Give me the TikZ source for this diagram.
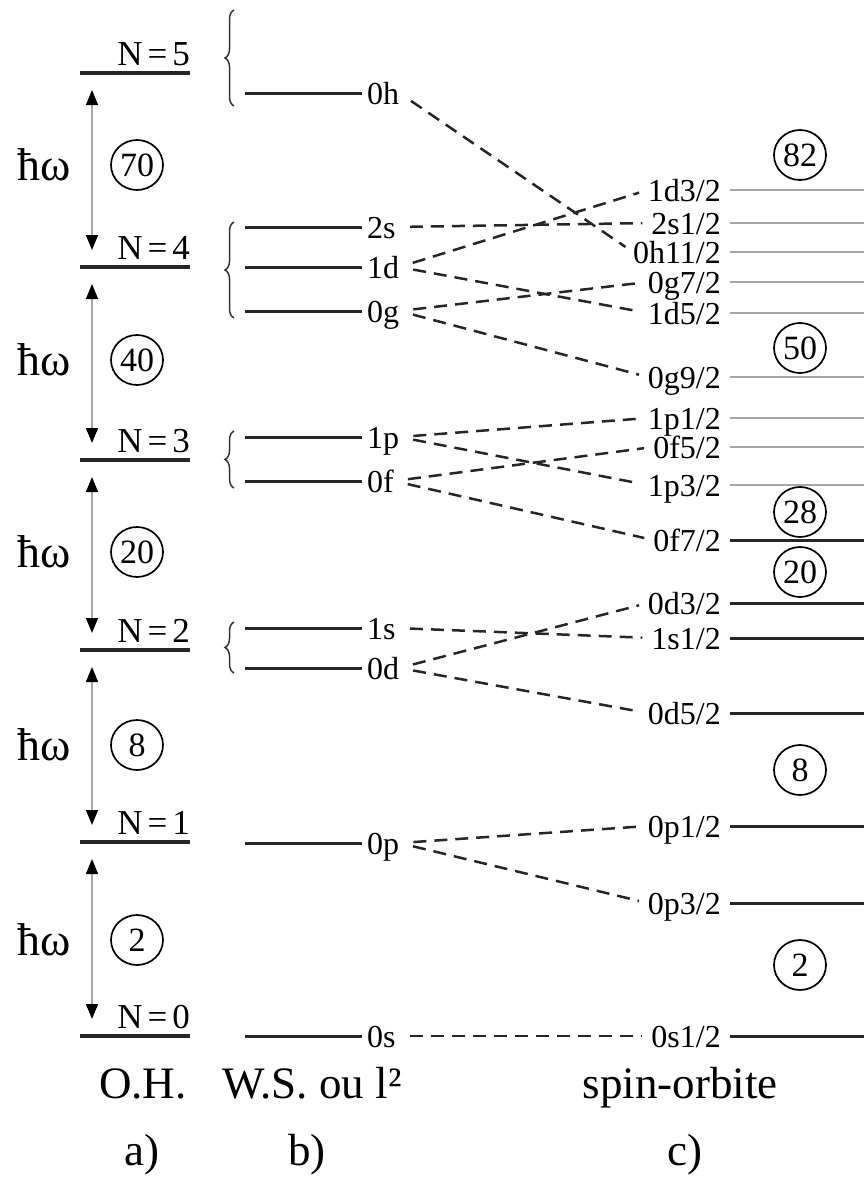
\documentclass[tikz,border=0pt]{standalone}
\usepackage{fontspec}
\setmainfont{Liberation Serif}
\usetikzlibrary{arrows.meta,shapes.geometric,decorations.pathreplacing}
\tikzset{
  lab/.style={font=\fontsize{32}{34}\selectfont, inner sep=0pt, text height=22pt, text depth=0pt},
  nlab/.style={font=\fontsize{35}{37}\selectfont, inner sep=0pt, anchor=base east},
  circ/.style={ellipse, draw, line width=1.7pt, minimum width=52pt, minimum height=50pt, inner sep=0pt, font=\fontsize{34}{36}\selectfont},
  hw/.style={font=\fontsize{46}{48}\selectfont, inner sep=0pt},
  captxt/.style={font=\fontsize{45}{47}\selectfont, inner sep=0pt, anchor=base},
  nline/.style={line width=3.2pt, black!85},
  lvl/.style={line width=3pt, black!85},
  glvl/.style={line width=1.6pt, black!35},
  dsh/.style={line width=2.5pt, dash pattern=on 13pt off 8pt, black!85, shorten <=14pt, shorten >=9pt},
  harr/.style={line width=1.5pt, black!35, {Triangle[color=black,length=15pt,width=12pt]}-{Triangle[color=black,length=15pt,width=12pt]}},
  brc/.style={decorate, decoration={brace, amplitude=9pt}, line width=1.5pt, black!80}
}
\newcommand\blev[3]{%
  \coordinate (bL#1) at (245,#3);
  \node[lab, anchor=west] (b#1) at (367,#3) {#2};
  \draw[lvl] (bL#1) -- ([xshift=-5pt]b#1.west);}
\newcommand\clev[4]{%
  \node[lab, anchor=east] (c#1) at (721,#3) {#2};
  \coordinate (cR#1) at (864,#3);
  \coordinate (cS#1) at (730,#3);
  \draw[#4] (cS#1) -- (cR#1);}
\begin{document}
\begin{tikzpicture}[x=1pt,y=-1pt]
\useasboundingbox (0,0) rectangle (864,1181);
% a) harmonic oscillator
\foreach \k/\y in {5/73,4/267,3/460,2/650,1/842,0/1036}{
  \coordinate (aL\k) at (80,\y);
  \coordinate (aR\k) at (190,\y);
  \draw[nline] (aL\k) -- (aR\k);
  \node[nlab] (aN\k) at (190,\y-8) {N{\kern5pt}={\kern5pt}\k};
}
\foreach \k/\ya/\yb/\ym/\m in {5/73/267/165/70, 4/267/460/360/40, 3/460/650/552/20, 2/650/842/745/8, 1/842/1036/940/2}{
  \coordinate (arT\k) at (92,\ya+17);
  \coordinate (arB\k) at (92,\yb-17);
  \draw[harr] (arT\k) -- (arB\k);
  \node[hw] (hw\k) at (44,\ym) {ħω};
  \node[circ] (ca\k) at (137,\ym) {\m};
}
% b) levels
\blev{0h}{0h}{93}
\blev{2s}{2s}{227}
\blev{1d}{1d}{267}
\blev{0g}{0g}{311}
\blev{1p}{1p}{437}
\blev{0f}{0f}{481}
\blev{1s}{1s}{628}
\blev{0d}{0d}{668}
\blev{0p}{0p}{843}
\blev{0s}{0s}{1036}
% braces
\coordinate (brA1) at (234,106); \coordinate (brA2) at (234,10);
\coordinate (brB1) at (234,318); \coordinate (brB2) at (234,222);
\coordinate (brC1) at (234,488); \coordinate (brC2) at (234,431);
\coordinate (brD1) at (234,673); \coordinate (brD2) at (234,622);
\draw[brc] (brA1) -- (brA2);
\draw[brc] (brB1) -- (brB2);
\draw[brc] (brC1) -- (brC2);
\draw[brc] (brD1) -- (brD2);
% c) spin-orbit levels
\clev{1d3}{1d3/2}{190}{glvl}
\clev{2s1}{2s1/2}{223}{glvl}
\clev{0h11}{0h11/2}{252}{glvl}
\clev{0g7}{0g7/2}{282}{glvl}
\clev{1d5}{1d5/2}{313}{glvl}
\clev{0g9}{0g9/2}{377}{glvl}
\clev{1p1}{1p1/2}{418}{glvl}
\clev{0f5}{0f5/2}{447}{glvl}
\clev{1p3}{1p3/2}{485}{glvl}
\clev{0f7}{0f7/2}{540}{lvl}
\clev{0d3}{0d3/2}{603}{lvl}
\clev{1s1}{1s1/2}{638}{lvl}
\clev{0d5}{0d5/2}{713}{lvl}
\clev{0p1}{0p1/2}{826}{lvl}
\clev{0p3}{0p3/2}{903}{lvl}
\clev{0s1}{0s1/2}{1036}{lvl}
% magic numbers
\node[circ] (m82) at (800,155) {82};
\node[circ] (m50) at (800,348) {50};
\node[circ] (m28) at (800,512) {28};
\node[circ] (m20) at (800,572) {20};
\node[circ] (m8) at (800,770) {8};
\node[circ] (m2) at (800,965) {2};
% connectors
\draw[dsh] (b0h.east) -- (c0h11.west);
\draw[dsh] (b2s.east) -- (c2s1.west);
\draw[dsh] (b1d.east) -- (c1d3.west);
\draw[dsh] (b1d.east) -- (c1d5.west);
\draw[dsh] (b0g.east) -- (c0g7.west);
\draw[dsh] (b0g.east) -- (c0g9.west);
\draw[dsh] (b1p.east) -- (c1p1.west);
\draw[dsh] (b1p.east) -- (c1p3.west);
\draw[dsh] (b0f.east) -- (c0f5.west);
\draw[dsh] (b0f.east) -- (c0f7.west);
\draw[dsh] (b1s.east) -- (c1s1.west);
\draw[dsh] (b0d.east) -- (c0d3.west);
\draw[dsh] (b0d.east) -- (c0d5.west);
\draw[dsh] (b0p.east) -- (c0p1.west);
\draw[dsh] (b0p.east) -- (c0p3.west);
\draw[dsh] (b0s.east) -- (c0s1.west);
% captions
\node[captxt] (tOH) at (143,1098) {O.H.};
\node[captxt] (tWS) at (312,1098) {W.S. ou l²};
\node[captxt] (tSO) at (680,1098) {spin-orbite};
\node[captxt] (ta) at (142,1165) {a)};
\node[captxt] (tb) at (307,1165) {b)};
\node[captxt] (tc) at (685,1165) {c)};
\end{tikzpicture}
\end{document}
